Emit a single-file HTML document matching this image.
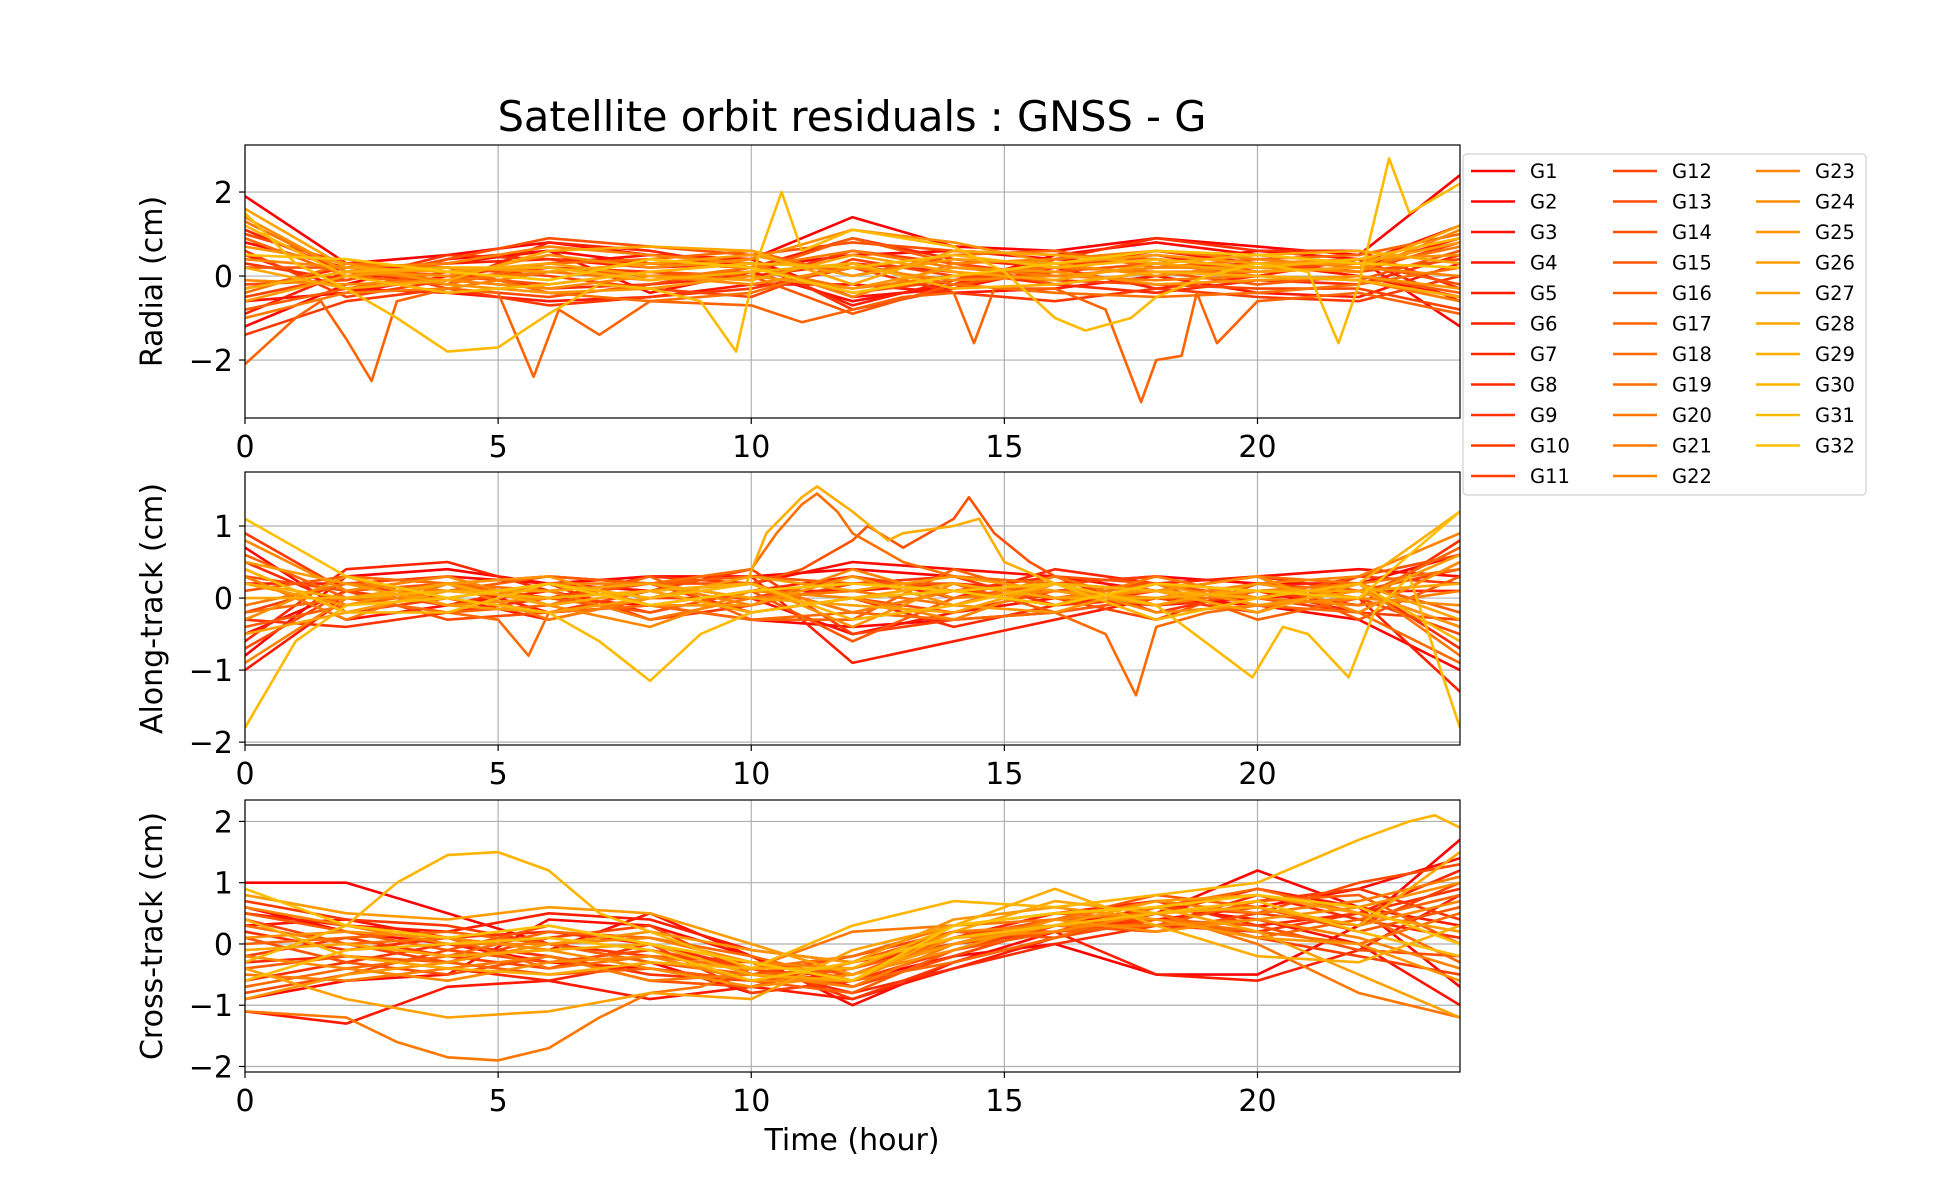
<!DOCTYPE html>
<html><head><meta charset="utf-8"><title>Satellite orbit residuals</title>
<style>
html,body{margin:0;padding:0;background:#fff;}
svg{display:block;font-family:"DejaVu Sans","Liberation Sans",sans-serif;}
</style></head>
<body>
<svg id="chart" width="1950" height="1200" viewBox="0 0 1950 1200" xmlns="http://www.w3.org/2000/svg">
<text x="852" y="131" font-size="41.5" text-anchor="middle">Satellite orbit residuals : GNSS - G</text>
<g id="panels"></g>
<text x="852" y="1150" font-size="30" text-anchor="middle">Time (hour)</text>
<g id="legend"></g>
</svg>
<script>
const names = ["G1","G2","G3","G4","G5","G6","G7","G8","G9","G10","G11","G12","G13","G14","G15","G16","G17","G18","G19","G20","G21","G22","G23","G24","G25","G26","G27","G28","G29","G30","G31","G32"];
const xTicks = [0,5,10,15,20];
const radialTicks = [-2,0,2];
const alongTicks = [-2,-1,0,1];
const crossTicks = [-2,-1,0,1,2];
const hours = [0,2,4,6,8,10,12,14,16,18,20,22,24];

// ---- Radial ----
const radialG17Times = [0,1,1.5,2,2.5,3,4,5,5.7,6.2,7,8,10,11,12,13,14,14.4,14.8,16,17,17.7,18,18.5,18.8,19.2,20,22,24];
const radialG17 = [-2.1,-1,-0.6,-1.5,-2.5,-0.6,-0.3,-0.4,-2.4,-0.8,-1.4,-0.6,-0.7,-1.1,-0.8,-0.5,-0.4,-1.6,-0.3,-0.3,-0.8,-3.0,-2.0,-1.9,-0.4,-1.6,-0.6,-0.4,-0.9];
const radialG31Times = [0,1,2,3,4,5,6,7,8,9,9.7,10.1,10.6,11,12,13,14,15,16,16.6,17.5,18,19,20,21,21.6,22,22.6,23,24];
const radialG31 = [1.5,0.3,-0.3,-1.0,-1.8,-1.7,-0.9,-0.2,-0.3,-0.6,-1.8,0.3,2.0,0.6,1.1,0.9,0.7,0.1,-1.0,-1.3,-1.0,-0.5,0.0,0.3,0.1,-1.6,-0.2,2.8,1.5,2.2];
const radialValues = [
[1.9,0.3,0.5,0.8,0.5,0.4,1.4,0.7,0.6,0.9,0.7,0.5,2.4],
[-1.2,-0.2,0.4,0.6,0.3,0.2,0.5,0.6,0.4,0.3,0.6,0.4,-1.2],
[0.8,0.2,0.3,0.6,-0.4,0.1,-0.6,-0.2,0.5,0.8,0.5,0.3,1.2],
[-0.6,-0.4,0.0,0.3,0.5,0.4,-0.5,-0.3,0.2,0.6,0.3,0.0,-0.5],
[0.5,-0.3,-0.4,-0.6,-0.5,-0.2,-0.2,-0.4,-0.3,0.0,-0.4,-0.5,0.3],
[-0.9,0.1,0.3,0.4,0.2,0.3,-0.7,-0.1,0.3,0.5,0.1,0.2,0.9],
[1.1,0.1,-0.2,0.8,0.6,0.2,0.9,0.4,0.2,-0.3,0.0,0.4,-0.6],
[-0.3,0.2,0.1,-0.3,-0.2,0.0,0.3,0.1,-0.2,-0.4,-0.1,-0.2,0.5],
[0.3,-0.1,0.5,0.4,0.3,0.4,-0.8,-0.3,0.4,0.9,0.6,0.6,-0.3],
[-1.4,-0.6,-0.3,-0.7,-0.5,-0.3,0.2,-0.4,-0.6,-0.3,-0.5,-0.6,0.0],
[0.6,-0.5,-0.1,0.2,0.1,-0.1,0.6,0.3,0.0,0.2,0.3,0.1,0.8],
[-0.5,0.0,0.2,0.0,-0.3,-0.5,0.4,0.0,-0.1,-0.2,-0.3,-0.3,-0.8],
[1.0,0.3,-0.3,-0.5,-0.2,0.2,-0.4,-0.1,0.3,0.4,0.2,0.1,0.4],
[-0.2,-0.1,0.4,0.9,0.7,0.5,0.8,0.6,0.5,0.4,0.2,0.3,-0.2],
[0.2,0.2,0.0,-0.2,0.1,0.0,-0.9,-0.2,0.1,0.3,0.0,-0.1,0.6],
[-0.8,-0.3,0.1,0.2,0.0,0.1,0.9,0.3,-0.2,0.1,-0.2,0.0,-0.4],
radialG17,
[0.9,0.0,-0.2,0.3,0.4,0.6,0.0,0.5,0.6,0.2,0.4,0.5,1.0],
[-0.4,0.3,0.2,-0.4,-0.6,-0.4,0.3,-0.2,-0.4,-0.5,-0.4,-0.2,0.2],
[1.3,0.1,-0.1,0.1,-0.1,0.2,-0.3,0.0,0.2,0.1,0.1,0.2,0.7],
[-1.0,-0.4,-0.3,0.1,0.3,0.2,0.6,0.2,0.0,-0.1,0.0,-0.1,-0.6],
[0.4,0.2,0.3,0.7,0.5,0.3,-0.5,0.3,0.4,0.6,0.4,0.2,0.0],
[-0.1,-0.2,-0.1,-0.3,0.0,-0.2,0.2,-0.1,0.0,0.2,0.2,0.1,1.1],
[1.4,0.1,0.0,0.5,0.2,0.4,1.1,0.8,0.3,0.0,0.3,0.4,0.5],
[0.7,0.3,-0.2,-0.4,-0.3,0.0,-0.3,0.2,0.1,-0.2,-0.1,0.0,-0.3],
[-0.6,0.0,0.2,0.1,0.3,0.5,0.0,0.4,0.3,0.5,0.3,0.3,0.8],
[1.6,0.2,0.1,0.3,0.0,-0.1,0.5,0.1,-0.1,0.3,0.1,0.2,1.2],
[0.2,-0.3,-0.1,0.6,0.7,0.6,-0.2,0.6,0.5,0.3,0.5,0.6,0.3],
[-0.3,0.1,0.2,0.2,-0.1,0.1,0.3,-0.3,-0.2,0.1,0.0,-0.1,-0.5],
[1.2,0.0,-0.4,-0.2,0.1,0.3,0.2,0.5,0.2,0.4,0.2,0.4,0.9],
radialG31,
[0.5,0.4,0.1,-0.1,0.4,0.2,-0.4,0.0,0.3,0.6,0.5,0.3,0.2]
];
const radialTimes = names.map((n,i)=> i===16 ? radialG17Times : i===30 ? radialG31Times : hours);

// ---- Along-track ----
const alongG14Times = [0,2,4,6,8,10,11,12,12.3,13,13.5,14,14.3,14.8,15.5,16,18,20,22,24];
const alongG14 = [0.3,0.1,0.2,0.0,0.2,0.2,0.4,0.8,1.0,0.7,0.9,1.1,1.4,0.9,0.5,0.3,0.2,0.0,0.3,0.6];
const alongG18Times = [0,2,4,5,5.6,6,8,10,12,14,16,17,17.6,18,19,20,22,24];
const alongG18 = [-0.2,0.0,-0.2,-0.3,-0.8,-0.2,-0.1,-0.3,-0.2,-0.3,-0.2,-0.5,-1.35,-0.4,-0.2,-0.1,-0.2,-0.9];
const alongG19Times = [0,2,4,6,8,9,10,10.5,11,11.3,11.7,12,13,14,16,18,20,22,24];
const alongG19 = [-0.3,0.3,0.2,0.1,0.2,0.3,0.4,0.9,1.3,1.45,1.2,0.9,0.5,0.3,0.2,0.1,0.3,0.2,0.4];
const alongG29Times = [0,2,4,6,8,9.9,10.3,11,11.3,12,12.7,13,14,14.5,15,16,18,20,22,24];
const alongG29 = [0.2,0.0,0.1,0.0,0.1,0.2,0.9,1.4,1.55,1.2,0.8,0.9,1.0,1.1,0.5,0.2,0.1,0.0,0.2,1.2];
const alongG31Times = [0,1,2,4,6,7,8,9,10,12,14,16,18,19.9,20.5,21,21.8,22.3,23,24];
const alongG31 = [-1.8,-0.6,-0.1,0.0,-0.2,-0.6,-1.15,-0.5,-0.2,0.0,0.1,0.2,-0.1,-1.1,-0.4,-0.5,-1.1,-0.2,0.3,-1.8];
const alongValues = [
[-0.8,0.3,0.4,0.2,0.3,0.3,0.4,0.3,0.2,0.3,0.2,0.2,0.6],
[0.7,-0.2,0.1,0.0,-0.1,-0.3,-0.4,-0.3,-0.2,0.0,-0.1,-0.3,-1.0],
[-0.5,0.1,0.3,0.2,0.1,0.2,0.5,0.4,0.3,0.1,0.3,0.4,0.3],
[0.3,-0.3,-0.1,0.1,0.2,0.0,-0.5,-0.2,0.0,-0.1,0.0,0.1,-0.4],
[-1.0,0.0,0.2,-0.2,-0.1,0.1,0.1,0.2,0.1,0.2,0.1,-0.2,0.5],
[0.2,0.2,0.0,-0.3,0.0,0.3,-0.9,-0.6,-0.3,0.0,0.2,0.0,-1.3],
[-0.6,0.4,0.5,0.1,-0.2,0.1,0.3,0.0,0.4,0.2,0.3,0.1,0.1],
[0.5,-0.1,0.2,0.3,0.2,-0.2,0.0,-0.4,-0.1,0.1,-0.2,0.2,-0.7],
[-0.3,-0.4,-0.2,0.0,0.3,0.2,-0.2,0.1,0.3,-0.2,0.1,-0.1,0.8],
[0.9,0.1,-0.1,0.2,-0.3,-0.1,0.2,0.3,-0.1,0.0,-0.2,0.3,0.2],
[-0.2,0.2,0.3,-0.1,0.1,0.4,-0.5,-0.3,0.2,0.3,0.0,-0.2,-0.3],
[0.4,-0.2,0.0,0.2,0.0,0.0,0.3,0.1,0.0,-0.3,0.2,0.1,0.4],
[-0.7,0.1,-0.3,-0.2,0.1,-0.2,0.0,-0.2,0.1,0.2,-0.1,0.0,-0.5],
alongG14,
[0.1,0.3,0.2,0.0,-0.2,0.1,-0.6,0.0,0.2,0.1,0.3,-0.3,0.3],
[-0.4,-0.1,0.1,0.3,0.2,0.3,0.2,0.2,-0.2,0.0,0.0,0.2,-0.2],
[0.6,0.0,-0.2,-0.1,0.3,-0.3,-0.3,0.4,0.0,0.2,-0.3,0.0,0.7],
alongG18,
alongG19,
[-0.1,0.2,0.1,0.1,-0.3,0.0,0.1,-0.1,0.3,-0.1,0.1,0.2,-0.8],
[0.3,-0.3,0.2,-0.3,0.0,0.2,-0.2,0.1,-0.1,0.3,0.0,-0.1,0.1],
[-0.9,0.0,0.0,0.2,0.2,-0.1,0.4,0.0,0.1,0.0,0.2,0.3,0.9],
[0.8,0.1,0.3,-0.1,-0.4,0.1,0.0,-0.3,0.2,-0.2,-0.1,0.0,-0.1],
[-0.3,0.3,-0.1,0.0,0.1,0.2,-0.4,0.2,0.0,0.1,0.3,-0.2,0.5],
[0.2,-0.1,0.2,0.3,-0.1,-0.1,0.3,-0.1,-0.2,0.2,-0.1,0.1,-0.4],
[0.5,0.2,-0.1,-0.2,0.0,0.3,0.1,0.3,0.1,-0.1,0.2,0.0,0.6],
[-0.5,-0.2,0.1,0.1,0.2,0.0,-0.1,-0.2,0.2,0.1,-0.2,0.2,-0.3],
[0.0,0.0,0.2,-0.1,0.1,-0.2,0.0,0.2,0.0,0.0,0.1,0.1,0.2],
alongG29,
[0.4,-0.2,-0.2,0.2,0.0,0.2,-0.3,-0.1,0.2,-0.3,0.0,0.2,-0.6],
alongG31,
[1.1,0.3,0.0,0.2,-0.1,0.1,0.2,0.1,-0.1,0.2,0.1,0.0,1.2]
];
const alongTimes = names.map((n,i)=> i===13 ? alongG14Times : i===17 ? alongG18Times : i===18 ? alongG19Times : i===28 ? alongG29Times : i===30 ? alongG31Times : hours);

// ---- Cross-track ----
const crossG20Times = [0,2,3,4,5,6,7,8,9,10,12,14,16,18,20,22,24];
const crossG20 = [-1.1,-1.2,-1.6,-1.85,-1.9,-1.7,-1.2,-0.8,-0.7,-0.4,0.2,0.3,0.4,0.5,0.0,-0.8,-1.2];
const crossG30Times = [0,2,3,4,5,6,7,8,10,12,14,16,18,20,22,23,23.5,24];
const crossG30 = [-0.3,0.3,1.0,1.45,1.5,1.2,0.5,0.2,-0.4,0.3,0.7,0.6,0.8,1.0,1.7,2.0,2.1,1.9];
const crossValues = [
[1.0,1.0,0.5,0.0,-0.3,-0.8,-0.6,-0.2,0.0,-0.5,-0.5,0.3,1.7],
[0.6,0.2,0.0,-0.3,-0.4,-0.6,-0.4,0.1,0.4,0.5,1.2,0.6,-0.7],
[-0.9,-0.6,-0.5,0.4,0.3,-0.2,-1.0,-0.3,0.2,0.4,0.6,0.9,1.4],
[0.3,0.4,0.1,-0.1,0.5,-0.2,-0.7,-0.2,0.3,0.6,0.4,0.0,-1.0],
[-1.1,-1.3,-0.7,-0.6,-0.9,-0.7,-0.9,-0.4,0.1,0.5,0.9,0.6,0.3],
[0.5,0.3,0.2,0.5,0.4,-0.1,-0.3,0.0,0.2,-0.5,-0.6,-0.1,0.8],
[-0.3,-0.2,-0.4,-0.6,-0.3,-0.5,-0.4,0.1,0.5,0.7,0.3,0.5,1.2],
[0.2,-0.1,0.1,0.2,0.0,-0.4,-0.8,-0.4,0.0,0.3,0.8,0.4,0.1],
[-0.6,-0.3,0.0,-0.2,-0.5,-0.6,-0.5,0.0,0.4,0.3,0.2,0.5,0.9],
[0.7,0.4,0.3,0.0,-0.2,-0.3,-0.9,-0.3,0.1,0.5,0.7,0.9,0.4],
[-0.2,0.1,-0.2,-0.4,0.0,-0.8,-0.6,-0.1,0.3,0.4,0.1,-0.2,-0.5],
[0.4,0.0,-0.3,0.1,0.3,-0.5,-0.2,0.2,0.2,0.6,0.5,0.3,1.0],
[-0.8,-0.5,-0.1,-0.3,-0.1,-0.4,-0.7,-0.2,0.3,0.2,0.5,1.0,1.3],
[0.1,-0.3,-0.5,-0.2,-0.6,-0.7,-0.3,0.2,0.1,0.4,0.3,-0.1,-0.2],
[0.5,0.2,-0.1,0.3,0.0,-0.3,-0.5,0.1,0.4,0.8,0.6,0.2,0.6],
[-0.4,-0.2,-0.3,-0.5,-0.4,-0.6,-0.8,-0.1,0.2,0.3,0.7,0.8,0.0],
[0.0,0.1,0.2,0.0,-0.3,-0.5,-0.4,0.0,0.3,0.5,0.1,0.4,0.8],
[-0.7,-0.4,-0.2,0.2,0.1,-0.2,-0.6,-0.3,0.1,0.6,0.9,0.5,-0.3],
[0.3,0.0,0.1,-0.4,-0.2,-0.4,-0.2,0.3,0.5,0.4,0.2,0.0,0.5],
crossG20,
[-0.5,-0.6,-0.4,-0.2,-0.6,-0.5,-0.7,0.0,0.4,0.7,0.5,0.7,1.1],
[0.6,0.3,0.0,0.0,0.1,-0.3,-0.4,0.2,0.3,0.3,0.4,0.1,-0.4],
[-0.2,-0.4,-0.6,-0.3,-0.2,-0.6,-0.6,0.1,0.2,0.5,0.6,0.3,0.7],
[0.1,0.2,0.1,-0.1,-0.4,-0.7,-0.5,-0.1,0.4,0.2,0.4,0.6,1.0],
[-0.9,-0.5,-0.3,0.0,0.2,-0.1,-0.3,0.4,0.6,0.4,0.1,0.0,-0.6],
[0.8,0.5,0.4,0.6,0.5,0.0,-0.5,0.0,0.3,0.7,0.8,0.5,0.2],
[-0.4,-0.9,-1.2,-1.1,-0.8,-0.9,-0.1,0.3,0.5,0.6,0.2,-0.5,-1.2],
[-0.1,0.0,-0.2,-0.1,0.0,-0.5,-0.6,0.2,0.7,0.5,0.6,0.3,1.5],
[0.4,-0.2,-0.4,-0.5,-0.3,-0.4,-0.4,0.3,0.9,0.3,-0.2,-0.3,0.3],
crossG30,
[-0.6,-0.1,0.0,0.1,-0.1,-0.6,-0.3,0.1,0.3,0.5,0.7,0.2,-0.2],
[0.9,0.3,0.1,0.3,0.0,-0.3,-0.6,0.3,0.5,0.6,0.8,0.6,0.0]
];
const crossTimes = names.map((n,i)=> i===19 ? crossG20Times : i===29 ? crossG30Times : hours);

const NS = "http://www.w3.org/2000/svg";
function mk(tag, attrs, parent){ const e=document.createElementNS(NS,tag); for(const k in attrs) e.setAttribute(k,attrs[k]); if(parent) parent.appendChild(e); return e; }
function color(i){ const g=Math.round(192*i/31); return "rgb(255,"+g+",0)"; }

const X0=245, X1=1460;
const xScale = t => X0 + (t/24)*(X1-X0);
const panels = [
 {key:"radial", label:"Radial (cm)", top:145, bottom:418, ymin:-3.38, ymax:3.12, ticks:radialTicks, vals:radialValues, times:radialTimes},
 {key:"along-track", label:"Along-track (cm)", top:472, bottom:745, ymin:-2.04, ymax:1.75, ticks:alongTicks, vals:alongValues, times:alongTimes},
 {key:"cross-track", label:"Cross-track (cm)", top:800, bottom:1072, ymin:-2.09, ymax:2.35, ticks:crossTicks, vals:crossValues, times:crossTimes}
];
const root=document.getElementById("panels");
panels.forEach((p,pi)=>{
  const yScale = v => p.bottom - (v-p.ymin)/(p.ymax-p.ymin)*(p.bottom-p.top);
  const g=mk("g",{},root);
  
  
  const cp=mk("clipPath",{id:"clip"+pi},g);
  mk("rect",{x:X0,y:p.top,width:X1-X0,height:p.bottom-p.top},cp);
  xTicks.forEach(t=>{ const l=mk("line",{x1:xScale(t),x2:xScale(t),y1:p.top,y2:p.bottom,stroke:"#b0b0b0","stroke-width":1.2},g);
    
     });
  p.ticks.forEach(v=>{ const l=mk("line",{x1:X0,x2:X1,y1:yScale(v),y2:yScale(v),stroke:"#b0b0b0","stroke-width":1.2},g);
    
     });
  const sg=mk("g",{"clip-path":"url(#clip"+pi+")"},g);
  p.vals.forEach((vals,i)=>{
    const ts=p.times[i];
    const d=vals.map((v,j)=>(j?"L":"M")+xScale(ts[j]).toFixed(1)+","+yScale(v).toFixed(1)).join(" ");
    const path=mk("path",{d:d,fill:"none",stroke:color(i),"stroke-width":2.6,"stroke-linejoin":"round"},sg);
    
    
  });
  const fr=mk("rect",{x:X0,y:p.top,width:X1-X0,height:p.bottom-p.top,fill:"none",stroke:"#000","stroke-width":1.2},g);
  
  
  xTicks.forEach(t=>{
    mk("line",{x1:xScale(t),x2:xScale(t),y1:p.bottom,y2:p.bottom+6,stroke:"#000","stroke-width":1.2},g);
    const tx=mk("text",{x:xScale(t),y:p.bottom+39,"font-size":30,"text-anchor":"middle"},g);
    tx.textContent=t;
    
    
  });
  p.ticks.forEach(v=>{
    mk("line",{x1:X0-6,x2:X0,y1:yScale(v),y2:yScale(v),stroke:"#000","stroke-width":1.2},g);
    const tx=mk("text",{x:X0-12,y:yScale(v)+11,"font-size":30,"text-anchor":"end"},g);
    tx.textContent=v<0?"\u2212"+Math.abs(v):v;
    
    
  });
  const cy=(p.top+p.bottom)/2;
  const yl=mk("text",{x:0,y:0,"font-size":30,"text-anchor":"middle",transform:"translate(162,"+cy+") rotate(-90)"},g);
  yl.textContent=p.label;
  
  
});
const lg=document.getElementById("legend");
mk("rect",{x:1463,y:154,width:403,height:341,rx:4,fill:"#fff",stroke:"#d8d8d8","stroke-width":1.5},lg);
const colX=[1471,1613,1756];
names.forEach((n,i)=>{
  const c=Math.floor(i/11), r=i%11;
  const y=171+r*30.5;
  const e=mk("g",{},lg);
  
  
  mk("line",{x1:colX[c],x2:colX[c]+44,y1:y,y2:y,stroke:color(i),"stroke-width":2.6},e);
  const t=mk("text",{x:colX[c]+59,y:y+7,"font-size":19.5},e);
  t.textContent=n;
});
</script>
</body></html>
